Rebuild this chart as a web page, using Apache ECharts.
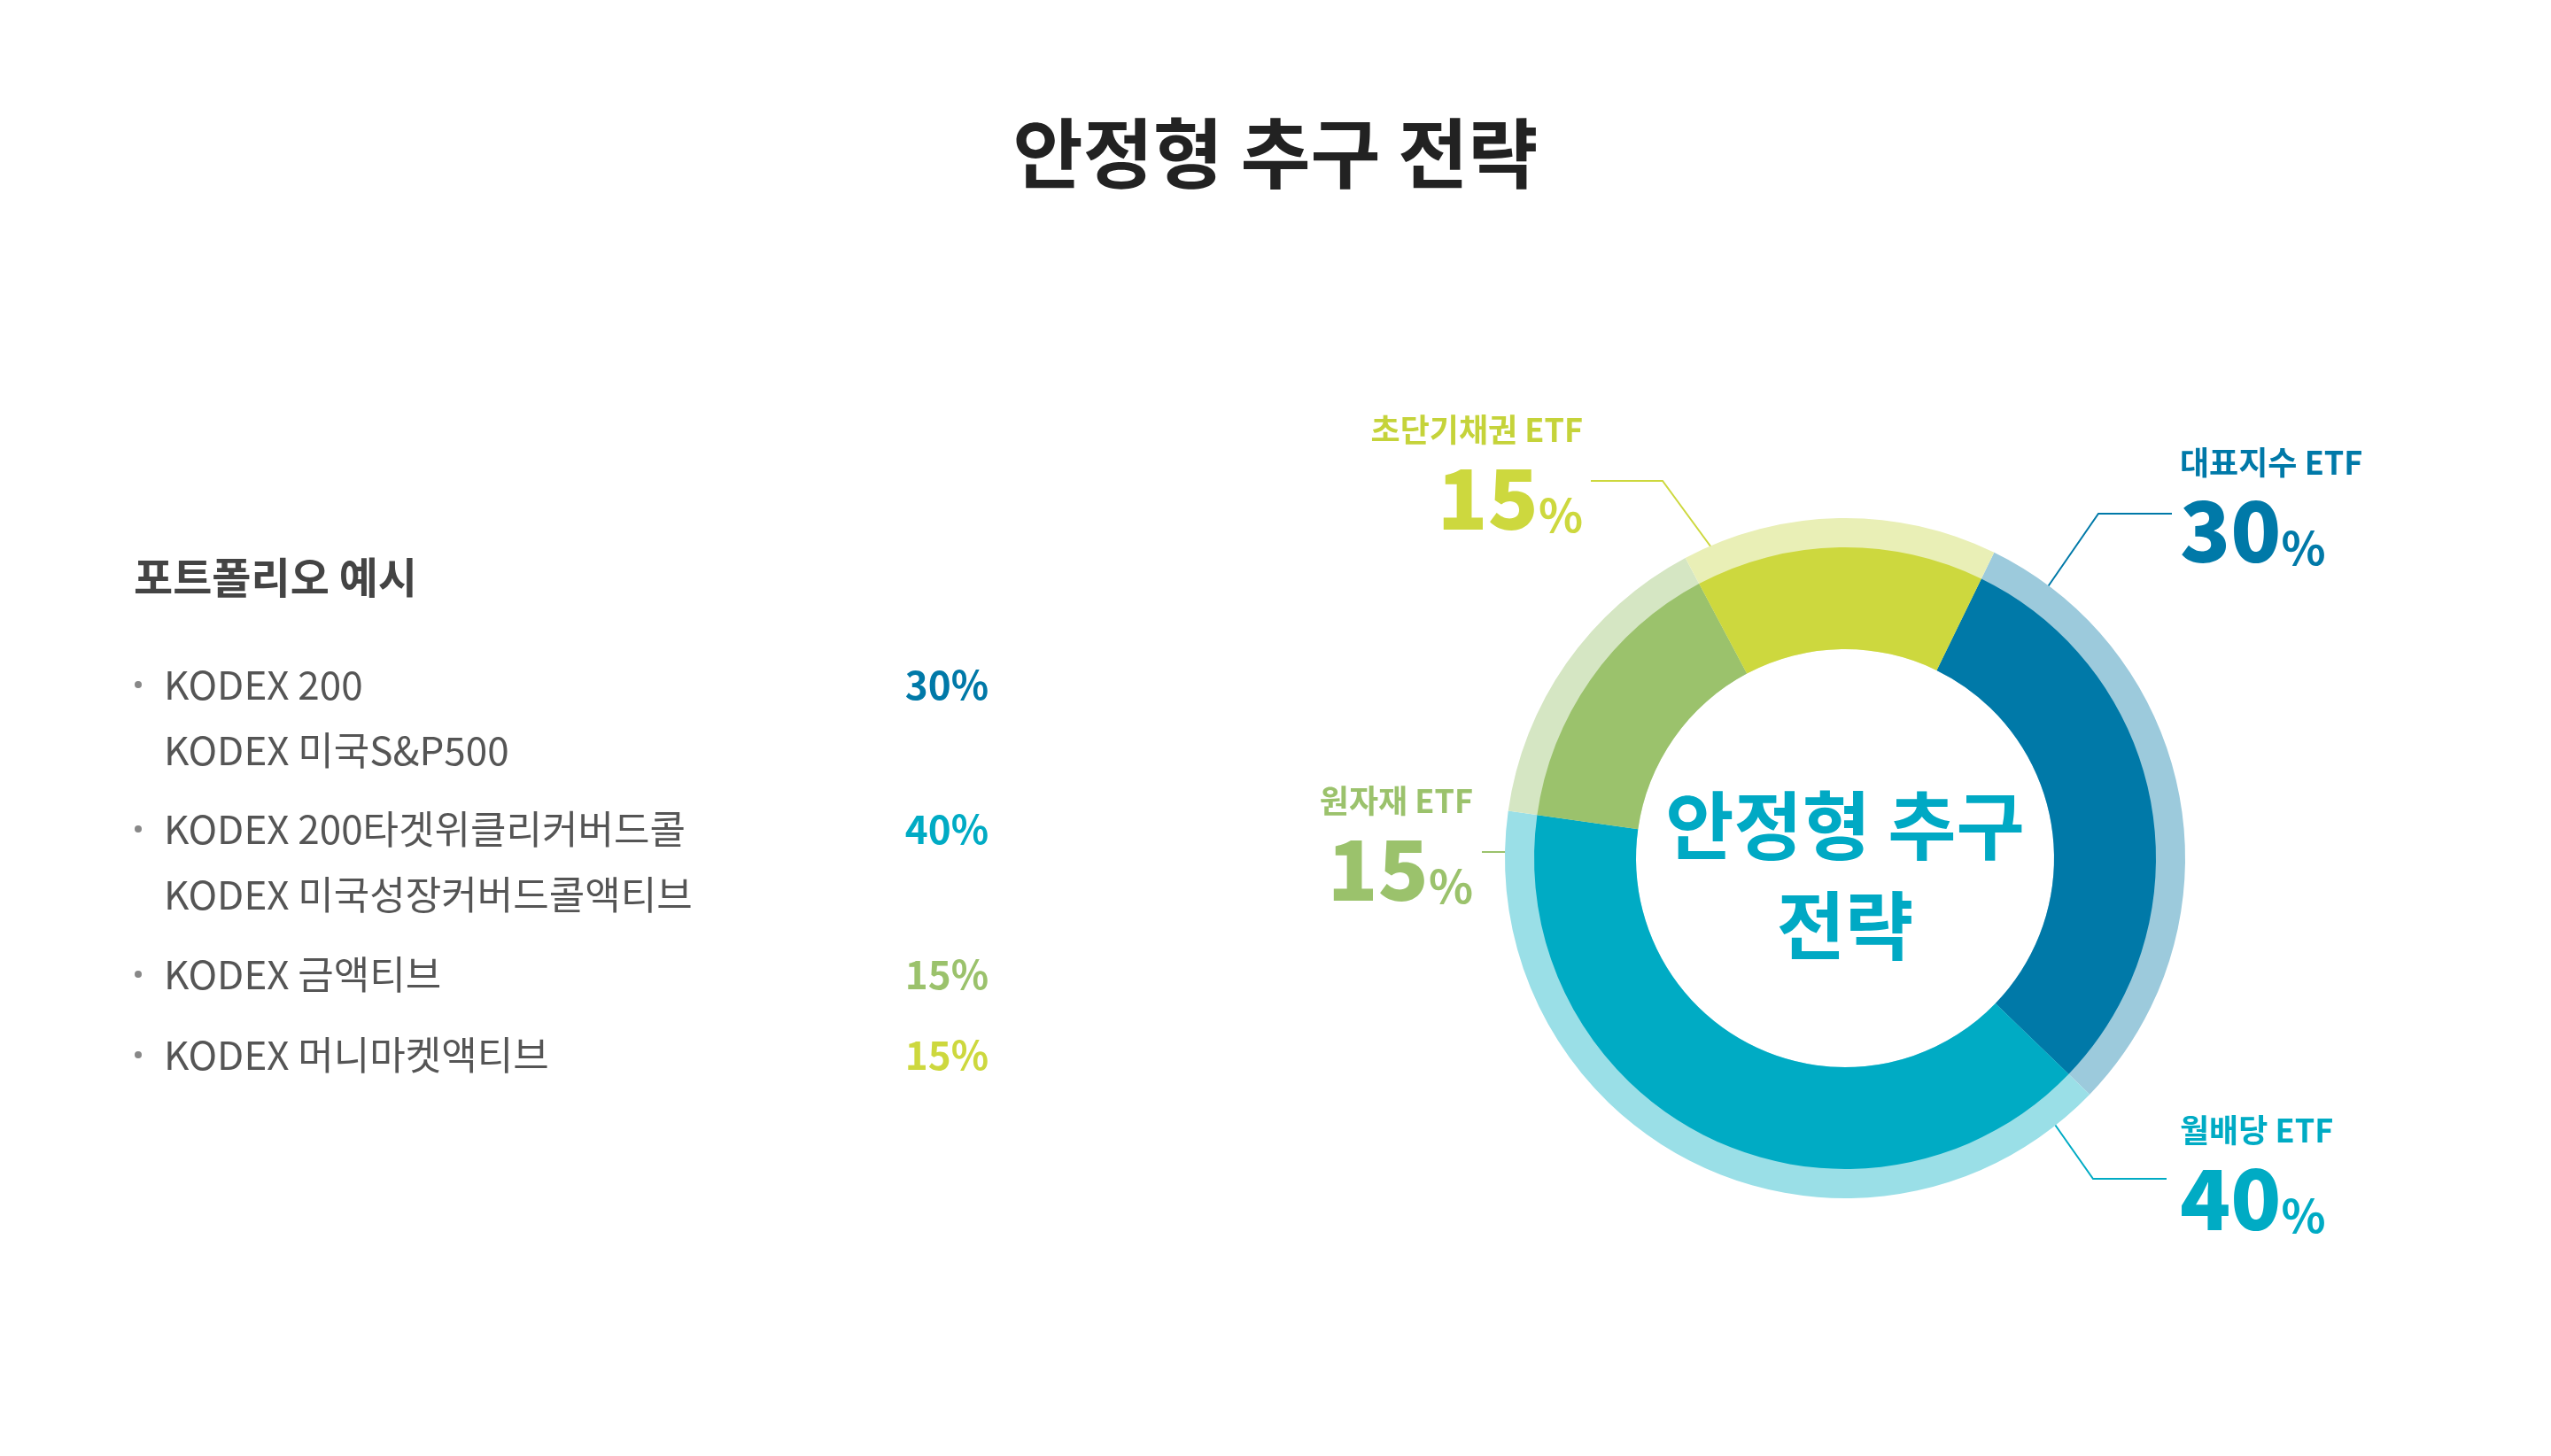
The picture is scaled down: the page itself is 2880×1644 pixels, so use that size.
<!DOCTYPE html>
<html>
<head>
<meta charset="utf-8">
<script src="https://cdn.jsdelivr.net/npm/echarts@6/dist/echarts.min.js"></script>
<style>
  html, body { margin: 0; padding: 0; background: #fff; }
  #chart { width: 2880px; height: 1644px; }
</style>
</head>
<body>
<div id="chart"></div>
<script>
var FONT = '"Noto Sans CJK KR", "Noto Sans", sans-serif';

// 데이터
var names = ['대표지수 ETF', '월배당 ETF', '원자재 ETF', '초단기채권 ETF'];
var values = [30, 40, 15, 15];
var colors = ['#0079a8', '#00abc4', '#9bc26c', '#cdd83e'];
var lightColors = ['#9ccadc', '#9adfe7', '#d5e6c3', '#e9efb6'];

var listItems = ['KODEX 200', 'KODEX 미국S&P500', 'KODEX 200타겟위클리커버드콜', 'KODEX 미국성장커버드콜액티브', 'KODEX 금액티브', 'KODEX 머니마켓액티브'];
var listBullets = [true, false, true, false, true, true];
var listPct = ['30%', '', '40%', '', '15%', '15%'];
var listPctColor = ['#0079a8', '', '#00abc4', '', '#9bc26c', '#cdd83e'];
var listY = [773, 847, 936, 1010, 1100, 1191];

// 라벨 위치 (x, y, 정렬, 지시선)
var labelPos = [
  { x: 2461, y: 567, align: 'left',  line: [[2295, 687], [2369, 580], [2452, 580]] },
  { x: 2461, y: 1321, align: 'left', line: [[2306, 1250], [2363, 1331], [2446, 1331]] },
  { x: 1663, y: 949, align: 'right', line: [[1735, 962], [1735, 962], [1673, 962]] },
  { x: 1787, y: 530, align: 'right', line: [[1951, 644], [1877, 543], [1796, 543]] }
];

var chart = echarts.init(document.getElementById('chart'));

var graphics = [];
graphics.push({ type: 'text', left: 'center', top: 130, style: { text: '안정형 추구 전략', font: 'bold 86px ' + FONT, fill: '#222' } });
graphics.push({ type: 'text', left: 151, top: 628, style: { text: '포트폴리오 예시', font: 'bold 48px ' + FONT, fill: '#444' } });
listItems.forEach(function (t, i) {
  if (listBullets[i]) {
    graphics.push({ type: 'circle', shape: { cx: 156, cy: listY[i], r: 4 }, style: { fill: '#888' } });
  }
  graphics.push({ type: 'text', x: 185, y: listY[i], style: { text: t, font: '44px ' + FONT, fill: '#555', verticalAlign: 'middle' } });
  if (listPct[i]) {
    graphics.push({ type: 'text', x: 1116, y: listY[i], style: { text: listPct[i], font: 'bold 44px ' + FONT, fill: listPctColor[i], align: 'right', verticalAlign: 'middle' } });
  }
});
graphics.push({ type: 'text', x: 2083, y: 932, style: { text: '안정형 추구', font: 'bold 84px ' + FONT, fill: '#00a9c4', align: 'center', verticalAlign: 'middle' } });
graphics.push({ type: 'text', x: 2083, y: 1045, style: { text: '전략', font: 'bold 84px ' + FONT, fill: '#00a9c4', align: 'center', verticalAlign: 'middle' } });

var pieData = names.map(function (n, i) { return { name: n, value: values[i] }; });

chart.setOption({
  animation: false,
  graphic: graphics,
  series: [
    {
      type: 'pie',
      center: [2083, 969],
      radius: [236, 384],
      startAngle: 64,
      clockwise: true,
      silent: true,
      itemStyle: { color: function (p) { return lightColors[p.dataIndex]; } },
      data: pieData,
      label: {
        show: true,
        formatter: '{t|{b}}\n{n|{c}}{p|%}',
        color: 'inherit',
        rich: {}
      },
      labelLine: { show: true, length: 40, length2: 60, lineStyle: { width: 2 } },
      labelLayout: function (params) {
        var p = labelPos[params.dataIndex];
        return { x: p.x, y: p.y, align: p.align, verticalAlign: 'middle', labelLinePoints: p.line };
      }
    },
    {
      type: 'pie',
      center: [2083, 969],
      radius: [236, 351],
      startAngle: 64,
      clockwise: true,
      silent: true,
      label: { show: false },
      labelLine: { show: false },
      itemStyle: { color: function (p) { return colors[p.dataIndex]; } },
      data: pieData
    }
  ]
});

// 라벨 색상 (계열별)
var opt = chart.getOption();
var d = pieData.map(function (item, i) {
  var a = labelPos[i].align;
  return {
    name: item.name, value: item.value,
    label: {
      rich: {
        t: { fontFamily: FONT, fontSize: 36, fontWeight: 'bold', color: colors[i] === '#cdd83e' ? '#c5d33a' : colors[i], lineHeight: 64, align: a },
        n: { fontFamily: FONT, fontSize: 94, fontWeight: 900, color: colors[i], lineHeight: 90, align: a },
        p: { fontFamily: FONT, fontSize: 52, fontWeight: 'bold', color: colors[i], lineHeight: 90, verticalAlign: 'bottom' }
      }
    },
    labelLine: { lineStyle: { color: colors[i] } }
  };
});
chart.setOption({ series: [{ data: d }, {}] });
</script>
</body>
</html>
